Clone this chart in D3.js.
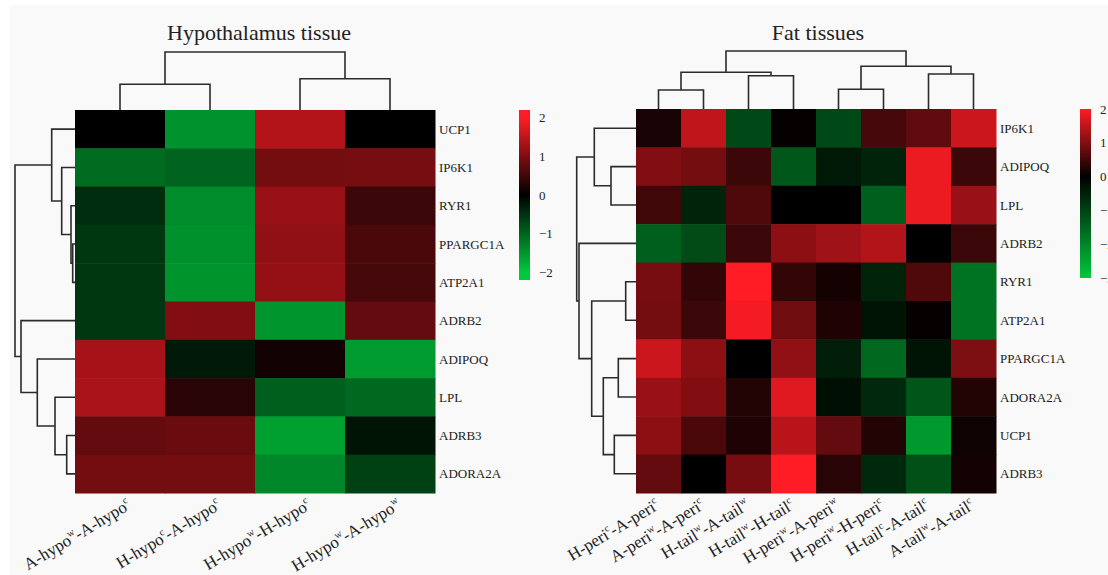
<!DOCTYPE html>
<html>
<head>
<meta charset="utf-8">
<script src="https://cdn.jsdelivr.net/npm/d3@7"></script>
<style>
  body { margin: 0; background: #fff; }
  text { font-family: "Liberation Serif", "Times New Roman", serif; fill: #222; }
</style>
</head>
<body>
<div id="vis"></div>
<script>
// ---------- data ----------
var hypoGenes = ["UCP1", "IP6K1", "RYR1", "PPARGC1A", "ATP2A1", "ADRB2", "ADIPOQ", "LPL", "ADRB3", "ADORA2A"];
var hypoGroups = ["A-hypo^w-A-hypo^c", "H-hypo^c-A-hypo^c", "H-hypo^w-H-hypo^c", "H-hypo^w-A-hypo^w"];
var hypoValues = [
  [ 0.00, -1.46,  1.40,  0.00],
  [-1.08, -1.00,  0.90,  0.92],
  [-0.45, -1.40,  1.20,  0.47],
  [-0.55, -1.45,  1.14,  0.59],
  [-0.55, -1.48,  1.17,  0.55],
  [-0.55,  1.02, -1.50,  0.78],
  [ 1.30, -0.25,  0.15, -1.55],
  [ 1.33,  0.31, -0.95, -1.05],
  [ 0.78,  0.82, -1.60, -0.20],
  [ 0.90,  0.90, -1.35, -0.65]
];
// linkage rows: [childA, childB, height]; ids >= n are earlier merges
var hypoRowMerges = [[3, 4, 2.3], [2, 10, 4], [8, 9, 8.3], [1, 11, 13.3], [7, 12, 20],
                     [0, 13, 23.3], [6, 14, 37.7], [5, 16, 54], [15, 17, 60]];
var hypoColMerges = [[0, 1, 25.7], [2, 3, 31.3], [4, 5, 58]];
var hypoTicks = [2, 1, 0, -1, -2];

var fatGenes = ["IP6K1", "ADIPOQ", "LPL", "ADRB2", "RYR1", "ATP2A1", "PPARGC1A", "ADORA2A", "UCP1", "ADRB3"];
var fatGroups = ["H-peri^c-A-peri^c", "A-peri^w-A-peri^c", "H-tail^w-A-tail^w", "H-tail^w-H-tail^c",
                 "H-peri^w-A-peri^w", "H-peri^w-H-peri^c", "H-tail^c-A-tail^c", "A-tail^w-A-tail^c"];
var fatValues = [
  [ 0.20,  1.50, -1.10,  0.04, -1.10,  0.55,  0.75,  1.60],
  [ 1.00,  0.90,  0.47, -1.30, -0.37, -0.52,  1.85,  0.47],
  [ 0.50, -0.52,  0.63,  0.00,  0.00, -1.42,  1.85,  1.20],
  [-1.42, -1.12,  0.47,  1.10,  1.25,  1.40,  0.00,  0.47],
  [ 0.94,  0.39,  2.00,  0.39,  0.16, -0.52,  0.63, -1.72],
  [ 0.90,  0.47,  1.92,  0.86,  0.24, -0.30,  0.04, -1.72],
  [ 1.60,  1.10,  0.00,  1.14, -0.45, -1.57, -0.30,  0.98],
  [ 1.20,  1.02,  0.27,  1.76, -0.22, -0.60, -1.27,  0.27],
  [ 1.10,  0.59,  0.24,  1.45,  0.78,  0.27, -2.30,  0.12],
  [ 0.78,  0.00,  0.94,  2.00,  0.31, -0.60, -1.20,  0.16]
];
var fatRowMerges = [[4, 5, 10.3], [6, 7, 17.7], [8, 9, 21.7], [1, 2, 25], [11, 12, 32.7],
                    [0, 13, 41.7], [10, 14, 44.3], [3, 16, 57], [15, 17, 59.3]];
var fatColMerges = [[0, 1, 19], [4, 5, 19.7], [2, 3, 33.3], [6, 7, 35], [8, 10, 36.7], [9, 11, 42.7], [12, 13, 58]];
var fatTicks = [2, 1, 0, -1, -2, -3];

// ---------- drawing ----------
var W = 1108, H = 575;
var svg = d3.select("#vis").append("svg").attr("width", W).attr("height", H);

svg.append("rect").attr("x", 10).attr("y", 5).attr("width", W - 10).attr("height", H - 5)
   .attr("fill", "#f9f9f9");

var defs = svg.append("defs");

function dendro(g, merges, n, leafPos, hScale, vertical) {
  // vertical=true : column tree above heatmap ; false : row tree left of heatmap
  var pos = [], hgt = [];
  for (var i = 0; i < n; i++) { pos.push(leafPos(i)); hgt.push(0); }
  merges.forEach(function(m) {
    var a = m[0], b = m[1], h = m[2];
    var p = d3.path();
    if (vertical) {
      p.moveTo(pos[a], hScale(hgt[a])); p.lineTo(pos[a], hScale(h));
      p.lineTo(pos[b], hScale(h)); p.lineTo(pos[b], hScale(hgt[b]));
    } else {
      p.moveTo(hScale(hgt[a]), pos[a]); p.lineTo(hScale(h), pos[a]);
      p.lineTo(hScale(h), pos[b]); p.lineTo(hScale(hgt[b]), pos[b]);
    }
    g.append("path").attr("d", p.toString()).attr("fill", "none")
     .attr("stroke", "#2b2b2b").attr("stroke-width", 1.6);
    pos.push((pos[a] + pos[b]) / 2);
    hgt.push(h);
  });
}

function supLabel(sel, label, big, small) {
  label.split(/(\^\w)/).forEach(function(part) {
    if (!part) return;
    if (part[0] === "^") {
      sel.append("tspan").attr("font-size", small).attr("dy", -big * 0.42).text(part.slice(1));
      sel.append("tspan").attr("font-size", big).attr("dy", big * 0.42).text("\u200b");
    } else {
      sel.append("tspan").attr("font-size", big).text(part);
    }
  });
}

function drawPanel(cfg) {
  var g = svg.append("g");

  var x = d3.scaleBand().domain(d3.range(cfg.groups.length)).range([cfg.x0, cfg.x1]);
  var y = d3.scaleBand().domain(d3.range(cfg.genes.length)).range([cfg.y0, cfg.y1]);
  var color = d3.scaleLinear().domain(cfg.colorDomain).range(["#00c83c", "#000000", "#ff1c24"]).clamp(true);

  // cells
  cfg.values.forEach(function(row, r) {
    g.selectAll(null).data(row).enter().append("rect")
      .attr("x", function(d, c) { return x(c); })
      .attr("y", y(r))
      .attr("width", x.bandwidth() + 0.5)
      .attr("height", y.bandwidth() + 0.5)
      .attr("fill", function(d) { return color(d); });
  });

  // row labels
  g.selectAll(".rowlab").data(cfg.genes).enter().append("text")
    .attr("x", cfg.x1 + 4)
    .attr("y", function(d, i) { return y(i) + y.bandwidth() / 2; })
    .attr("dy", "0.35em")
    .attr("font-size", 13)
    .text(function(d) { return d; });

  // column labels
  cfg.groups.forEach(function(lab, i) {
    var cx = x(i) + x.bandwidth() / 2 + cfg.labDx;
    var t = g.append("text")
      .attr("text-anchor", "end")
      .attr("transform", "translate(" + cx + "," + cfg.labY + ") rotate(-31)");
    supLabel(t, lab, 17, 10);
  });

  // dendrograms
  var colH = d3.scaleLinear().domain([0, 60]).range([cfg.y0, cfg.y0 - 60]);
  dendro(g, cfg.colMerges, cfg.groups.length,
         function(i) { return x(i) + x.bandwidth() / 2; }, colH, true);
  var rowH = d3.scaleLinear().domain([0, 60]).range([cfg.x0, cfg.x0 - 60]);
  dendro(g, cfg.rowMerges, cfg.genes.length,
         function(i) { return y(i) + y.bandwidth() / 2; }, rowH, false);

  // title
  g.append("text").attr("x", cfg.titleX).attr("y", 40).attr("text-anchor", "middle")
    .attr("font-size", 22).text(cfg.title);

  // legend
  var ly = d3.scaleLinear().domain(cfg.legendDomain).range([cfg.ly1, cfg.ly0]);
  var gid = "grad" + cfg.id;
  var grad = defs.append("linearGradient").attr("id", gid)
    .attr("x1", 0).attr("y1", 1).attr("x2", 0).attr("y2", 0);
  d3.range(0, 1.0001, 0.05).forEach(function(t) {
    var v = cfg.legendDomain[0] + t * (cfg.legendDomain[1] - cfg.legendDomain[0]);
    grad.append("stop").attr("offset", t).attr("stop-color", color(v));
  });
  g.append("rect").attr("x", cfg.lx).attr("y", cfg.ly0).attr("width", 11)
    .attr("height", cfg.ly1 - cfg.ly0).attr("fill", "url(#" + gid + ")");
  g.selectAll(".tick").data(cfg.ticks).enter().append("text")
    .attr("x", cfg.lx + 20)
    .attr("y", function(d) { return ly(d); })
    .attr("dy", "0.35em")
    .attr("font-size", 13)
    .text(function(d) { return d < 0 ? "\u2212" + Math.abs(d) : d; });
}

drawPanel({
  id: 1, title: "Hypothalamus tissue", titleX: 259,
  genes: hypoGenes, groups: hypoGroups, values: hypoValues,
  rowMerges: hypoRowMerges, colMerges: hypoColMerges,
  x0: 75, x1: 435, y0: 110, y1: 493,
  labDx: 12, labY: 508,
  colorDomain: [-2, 0, 2],
  lx: 519, ly0: 110, ly1: 280, legendDomain: [-2.2, 2.2], ticks: hypoTicks
});

drawPanel({
  id: 2, title: "Fat tissues", titleX: 818,
  genes: fatGenes, groups: fatGroups, values: fatValues,
  rowMerges: fatRowMerges, colMerges: fatColMerges,
  x0: 636, x1: 996, y0: 109, y1: 493,
  labDx: 2, labY: 508,
  colorDomain: [-3, 0, 2],
  lx: 1080, ly0: 109, ly1: 278, legendDomain: [-3, 2], ticks: fatTicks
});
</script>
</body>
</html>
